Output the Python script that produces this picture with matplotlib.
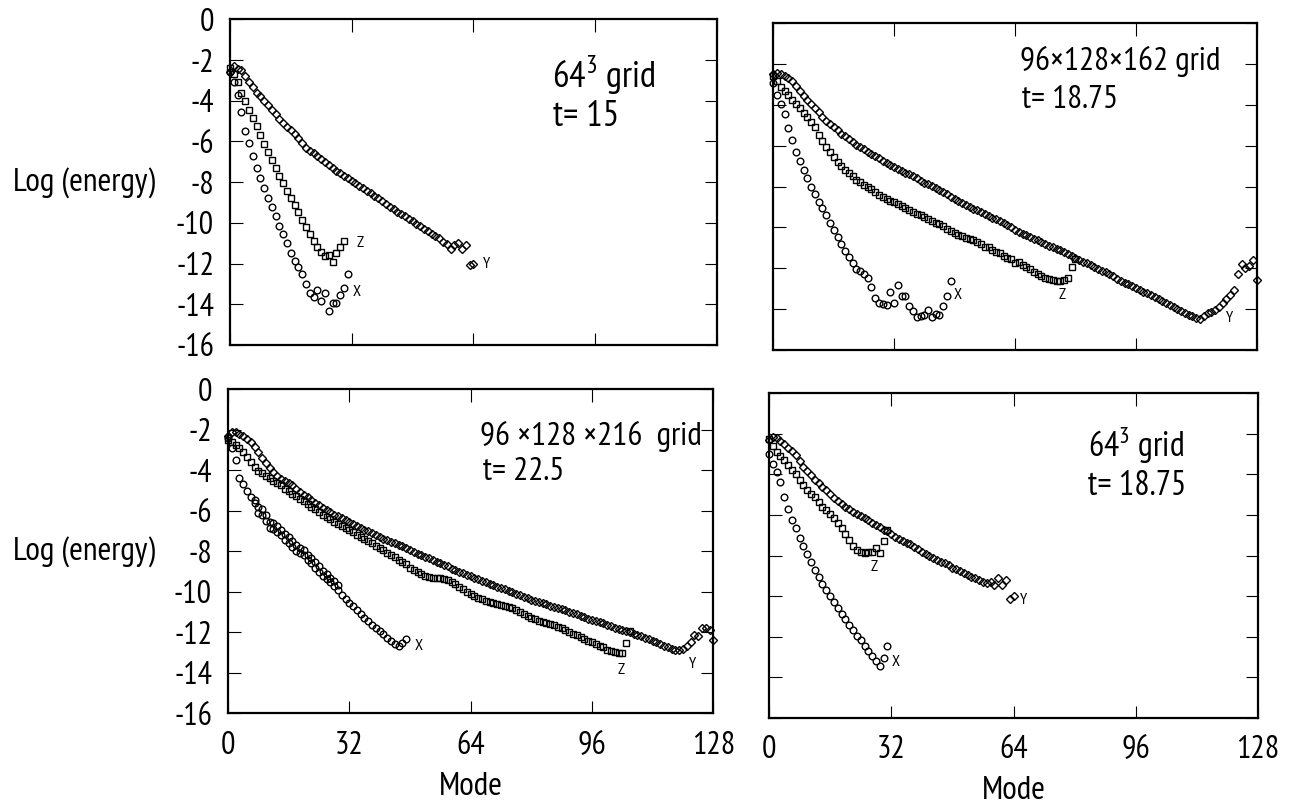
import numpy as np
import matplotlib
matplotlib.use("Agg")
import matplotlib.pyplot as plt
from matplotlib import transforms
from matplotlib import font_manager as fm

_have = {f.name for f in fm.fontManager.ttflist}
_cands = ['Liberation Sans Narrow', 'PT Sans Narrow', 'Roboto Condensed',
          'Archivo Narrow', 'Asap Condensed']
MAINFONT = next((c for c in _cands if c in _have), 'DejaVu Sans')
plt.rcParams['font.family'] = [MAINFONT, 'DejaVu Sans']
plt.rcParams['axes.unicode_minus'] = False
plt.rcParams['mathtext.fontset'] = 'custom'
plt.rcParams['mathtext.rm'] = MAINFONT

# ---------------- data: log(energy) per mode ----------------
# Panel A: 64^3 grid, t = 15
a_x = [-2.6, -3.1, -3.7, -4.53, -5.5, -6.08, -6.73, -7.3, -7.8, -8.28, -8.77, -9.23, -9.67,
       -10.13, -10.54, -10.98, -11.47, -11.88, -12.17, -12.53, -12.99, -13.43, -13.64, -13.32,
       -13.84, -13.47, -14.33, -13.92, -13.92, -13.56, -13.19, -12.53]
a_z = [-2.4, -2.7, -3.1, -3.6, -4.03, -4.44, -4.85, -5.26, -5.7, -6.11, -6.52, -6.93, -7.3,
       -7.71, -8.04, -8.45, -8.77, -9.1, -9.46, -9.84, -10.21, -10.57, -10.9, -11.19, -11.42,
       -11.64, -11.6, -11.93, -11.47, -11.19, -10.87]
a_y = [-2.6, -2.3, -2.45, -2.5, -2.8, -3.1, -3.35, -3.6, -3.75, -4.0, -4.2, -4.45, -4.65, -4.9,
       -5.1, -5.3, -5.45, -5.65, -5.85, -6.1, -6.3, -6.45, -6.55, -6.7, -6.85, -7.0, -7.15,
       -7.3, -7.45, -7.55, -7.7, -7.8, -7.95, -8.05, -8.2, -8.3, -8.45, -8.55, -8.7, -8.8,
       -8.95, -9.05, -9.2, -9.3, -9.45, -9.55, -9.65, -9.8, -9.9, -10.05, -10.15, -10.3,
       -10.4, -10.55, -10.65, -10.75, -10.95, -11.05, -11.3, -11.1, -11.0, -11.3, -11.1,
       -12.05, -12.0]

# Panel B: 96x128x162 grid, t = 18.75
b_x = [-2.9, -3.5, -3.93, -4.42, -5.15, -5.72, -6.29, -6.75, -7.19, -7.6, -8.0, -8.38, -8.74,
       -9.06, -9.39, -9.77, -10.12, -10.45, -10.82, -11.13, -11.43, -11.75, -12.04, -12.15,
       -12.3, -12.45, -12.9, -13.43, -13.71, -13.73, -13.79, -13.14, -13.71, -12.81, -13.35,
       -13.35, -13.84, -14.07, -14.36, -14.33, -14.28, -14.03, -14.36, -14.25, -14.28, -13.84,
       -13.35, -12.62]
b_z = [-2.6, -2.85, -3.1, -3.3, -3.5, -3.75, -3.95, -4.15, -4.4, -4.6, -4.85, -5.1, -5.45,
       -5.75, -6.05, -6.3, -6.55, -6.8, -7.0, -7.2, -7.35, -7.5, -7.65, -7.75, -7.9, -8.0,
       -8.1, -8.25, -8.4, -8.5, -8.6, -8.7, -8.75, -8.85, -8.95, -9.05, -9.15, -9.25, -9.35,
       -9.4, -9.5, -9.6, -9.7, -9.8, -9.85, -9.95, -10.05, -10.15, -10.25, -10.35, -10.4,
       -10.5, -10.55, -10.6, -10.7, -10.8, -10.95, -10.95, -11.1, -11.2, -11.25, -11.4,
       -11.5, -11.55, -11.75, -11.7, -11.85, -11.95, -12.05, -12.2, -12.3, -12.4, -12.45,
       -12.5, -12.55, -12.6, -12.6, -12.55, -12.45, -11.95, -11.55]
b_y = [-2.5, -2.45, -2.5, -2.6, -2.7, -2.85, -3.05, -3.3, -3.55, -3.75, -3.95, -4.15, -4.35,
       -4.6, -4.8, -4.95, -5.1, -5.25, -5.4, -5.5, -5.65, -5.8, -5.95, -6.05, -6.15, -6.3,
       -6.4, -6.5, -6.6, -6.75, -6.85, -6.95, -7.05, -7.15, -7.25, -7.35, -7.4, -7.5, -7.6,
       -7.7, -7.8, -7.85, -7.95, -8.05, -8.15, -8.25, -8.35, -8.5, -8.6, -8.7, -8.8, -8.9,
       -9.0, -9.1, -9.15, -9.25, -9.35, -9.45, -9.55, -9.6, -9.7, -9.8, -9.9, -10.0, -10.1,
       -10.2, -10.3, -10.35, -10.45, -10.55, -10.6, -10.7, -10.8, -10.9, -10.95, -11.05,
       -11.1, -11.2, -11.3, -11.4, -11.5, -11.6, -11.7, -11.75, -11.85, -11.95, -12.05,
       -12.15, -12.2, -12.3, -12.4, -12.5, -12.6, -12.7, -12.75, -12.85, -12.95, -13.05,
       -13.15, -13.2, -13.3, -13.4, -13.5, -13.6, -13.7, -13.8, -13.9, -14.0, -14.1, -14.2,
       -14.3, -14.35, -14.45, -14.5, -14.35, -14.2, -14.15, -14.05, -13.9, -13.7, -13.5,
       -13.3, -13.05, -12.3, -11.8, -12.0, -11.9, -11.6, -12.55]

# Panel C: 96x128x216 grid, t = 22.5
c_x = [-2.4, -2.9, -3.5, -4.4, -4.7, -5.0, -5.3, -5.6, -6.1, -6.2, -6.5, -6.85, -6.9, -7.05,
       -7.2, -7.45, -7.6, -7.8, -8.0, -8.1, -8.2, -8.45, -8.6, -8.8, -9.0, -9.2, -9.35, -9.5,
       -9.7, -9.9, -10.15, -10.35, -10.55, -10.7, -10.9, -11.1, -11.3, -11.45, -11.65, -11.8,
       -11.95, -12.1, -12.3, -12.45, -12.6, -12.7, -12.55, -12.35]
c_x_pair_start = 7
c_x_pair = [-5.45, -5.8, -5.9, -6.2, -6.55, -6.6, -6.75, -6.95, -7.15, -7.3, -7.5, -7.7,
            -7.85, -7.95, -8.2, -8.35, -8.55, -8.75, -8.95, -9.1, -9.3, -9.45, -9.65]
c_z = [-2.5, -2.6, -2.75, -2.9, -3.1, -3.35, -3.6, -3.85, -4.05, -4.15, -4.3, -4.4, -4.55,
       -4.65, -4.75, -4.9, -5.0, -5.15, -5.25, -5.4, -5.5, -5.65, -5.8, -5.9, -6.05, -6.2,
       -6.3, -6.4, -6.55, -6.65, -6.75, -6.85, -6.95, -7.05, -7.2, -7.3, -7.4, -7.5, -7.6,
       -7.75, -7.85, -7.95, -8.1, -8.2, -8.3, -8.45, -8.55, -8.65, -8.8, -8.9, -9.0, -9.1,
       -9.2, -9.25, -9.3, -9.3, -9.3, -9.35, -9.4, -9.5, -9.6, -9.75, -9.85, -10.0, -10.1,
       -10.2, -10.3, -10.35, -10.45, -10.5, -10.55, -10.6, -10.65, -10.7, -10.75, -10.8,
       -10.9, -11.0, -11.1, -11.2, -11.3, -11.35, -11.45, -11.5, -11.55, -11.6, -11.65,
       -11.75, -11.8, -11.9, -12.0, -12.1, -12.15, -12.25, -12.35, -12.45, -12.5, -12.6,
       -12.7, -12.75, -12.85, -12.9, -12.95, -13.0, -13.0, -12.55, -11.95]
c_y = [-2.3, -2.1, -2.1, -2.2, -2.3, -2.45, -2.6, -2.85, -3.1, -3.4, -3.65, -3.9, -4.1, -4.3,
       -4.45, -4.55, -4.65, -4.75, -4.9, -5.05, -5.2, -5.3, -5.45, -5.6, -5.7, -5.85, -5.95,
       -6.05, -6.2, -6.25, -6.35, -6.45, -6.55, -6.65, -6.75, -6.85, -6.95, -7.0, -7.1, -7.2,
       -7.3, -7.4, -7.45, -7.55, -7.6, -7.7, -7.75, -7.85, -7.95, -8.05, -8.15, -8.2, -8.3,
       -8.35, -8.45, -8.55, -8.6, -8.7, -8.75, -8.85, -8.9, -9.0, -9.05, -9.15, -9.2, -9.3,
       -9.35, -9.45, -9.5, -9.6, -9.65, -9.75, -9.8, -9.85, -9.95, -10.0, -10.1, -10.15,
       -10.25, -10.3, -10.4, -10.45, -10.5, -10.55, -10.6, -10.7, -10.75, -10.8, -10.85,
       -10.9, -11.0, -11.05, -11.1, -11.2, -11.25, -11.35, -11.4, -11.45, -11.5, -11.55,
       -11.65, -11.7, -11.8, -11.85, -11.9, -11.95, -12.0, -12.1, -12.15, -12.2, -12.3,
       -12.35, -12.45, -12.5, -12.6, -12.7, -12.75, -12.8, -12.85, -12.85, -12.8, -12.7,
       -12.5, -12.15, -12.2, -11.8, -11.8, -11.9, -12.4]

# Panel D: 64^3 grid, t = 18.75
d_x = [-2.98, -3.5, -3.88, -4.37, -5.11, -5.68, -6.25, -6.66, -7.12, -7.52, -7.93, -8.29,
       -8.7, -9.06, -9.39, -9.71, -10.01, -10.3, -10.58, -10.86, -11.12, -11.4, -11.64,
       -11.94, -12.17, -12.46, -12.7, -12.95, -13.2, -13.45, -13.05, -12.45]
d_z = [-2.25, -2.6, -2.9, -3.1, -3.3, -3.55, -3.8, -4.0, -4.25, -4.5, -4.75, -4.95, -5.1,
       -5.35, -5.6, -5.75, -5.95, -6.15, -6.4, -6.65, -6.95, -7.25, -7.5, -7.7, -7.8, -7.85,
       -7.8, -7.8, -7.6, -7.85, -7.3, -6.75]
d_y = [-2.3, -2.15, -2.2, -2.35, -2.5, -2.7, -2.85, -3.05, -3.35, -3.65, -3.85, -4.05, -4.25,
       -4.4, -4.6, -4.75, -4.95, -5.15, -5.3, -5.45, -5.6, -5.7, -5.85, -5.95, -6.05, -6.15,
       -6.25, -6.4, -6.5, -6.6, -6.75, -6.8, -6.95, -7.1, -7.2, -7.3, -7.4, -7.45, -7.55,
       -7.65, -7.8, -7.9, -8.0, -8.1, -8.2, -8.3, -8.35, -8.45, -8.6, -8.65, -8.75, -8.85,
       -8.95, -9.05, -9.1, -9.2, -9.3, -9.35, -9.3, -9.45, -9.1, -9.45, -9.2, -10.15, -10.0]

titles = [("$\\mathrm{64}^{\\mathrm{3}}$ grid", "t= 15"),
          ("96×128×162 grid", "t= 18.75"),
          ("96 ×128 ×216  grid", "t= 22.5"),
          ("$\\mathrm{64}^{\\mathrm{3}}$ grid", "t= 18.75")]
series_labels = [[("Z", 34.2, -11.0), ("X", 33.3, -13.4), ("Y", 67.5, -12.0)],
                 [("X", 48.9, -13.3), ("Z", 76.5, -13.3), ("Y", 120.9, -14.45)],
                 [("X", 50.2, -12.7), ("Z", 103.6, -13.85), ("Y", 122.6, -13.55)],
                 [("Z", 27.4, -8.55), ("X", 33.2, -13.25), ("Y", 66.6, -10.2)]]
xticks = [0, 32, 64, 96, 128]
yticks = [0, -2, -4, -6, -8, -10, -12, -14, -16]

# ---------------- figure ----------------
fig = plt.figure(figsize=(12.9, 8.09), dpi=100)
W, H = 1290.0, 809.0
boxes = [(230, 19.3, 716.7, 345), (773.3, 23.3, 1256.7, 350),
         (228, 389.3, 713.3, 713.3), (769, 393.3, 1258, 718)]
axes = []
for (x0, y0, x1, y1) in boxes:
    axes.append(fig.add_axes([x0 / W, 1 - y1 / H, (x1 - x0) / W, (y1 - y0) / H]))

text_pos = [((0.662, 0.790), (0.664, 0.672), 26.5),
            ((0.510, 0.857), (0.514, 0.741), 24),
            ((0.519, 0.828), (0.525, 0.720), 24),
            ((0.652, 0.804), (0.652, 0.687), 24.5)]

panels = [(a_x, a_z, a_y), (b_x, b_z, b_y), (c_x, c_z, c_y), (d_x, d_z, d_y)]
mk = dict(linestyle='none', mfc='none', mec='black', clip_on=False)

for i, ax in enumerate(axes):
    xs, zs, ys = panels[i]
    ax.plot(np.arange(len(xs)), xs, marker='o', ms=4.8, mew=1.0, **mk)
    if i == 2:
        ax.plot(np.arange(len(c_x_pair)) + c_x_pair_start, c_x_pair, marker='o', ms=4.8,
                mew=1.0, **mk)
    ax.plot(np.arange(len(zs)), zs, marker='s', ms=4.3, mew=1.0, **mk)
    ax.plot(np.arange(len(ys)), ys, marker='D', ms=4.0, mew=1.0, **mk)

    ax.set_xlim(0, 128)
    ax.set_ylim(-16, 0)
    ax.set_xticks(xticks)
    ax.set_yticks(yticks)
    for s in ax.spines.values():
        s.set_linewidth(1.6)
    ax.tick_params(axis='both', direction='in', length=9, width=0.8,
                   top=True, right=True, labelsize=23)
    ax.tick_params(axis='y', pad=11.5)
    ax.tick_params(axis='x', pad=12.5)
    if i in (0, 1):
        ax.tick_params(axis='x', labelbottom=False)
    if i in (1, 3):
        ax.tick_params(axis='y', labelleft=False)
    if i in (2, 3):
        ax.set_xlabel("Mode", fontsize=24, labelpad=8)
    if i in (0, 2):
        tr = transforms.blended_transform_factory(fig.transFigure, ax.transData)
        ax.text(13 / W, -8, "Log (energy)", transform=tr, fontsize=24,
                ha='left', va='center')

    (p1, p2, fs) = text_pos[i]
    ax.text(p1[0], p1[1], titles[i][0], transform=ax.transAxes, fontsize=fs,
            ha='left', va='baseline')
    ax.text(p2[0], p2[1], titles[i][1], transform=ax.transAxes, fontsize=fs,
            ha='left', va='baseline')
    for (lab, mx, my) in series_labels[i]:
        ax.text(mx, my, lab, fontsize=11.5, ha='center', va='center')

fig.savefig("out.png", dpi=100)
